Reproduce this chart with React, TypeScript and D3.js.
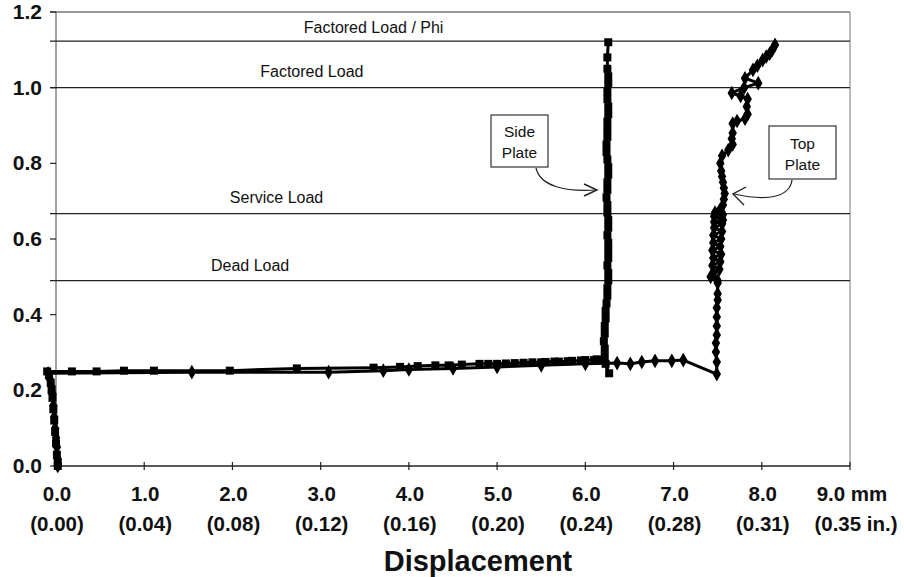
import React from "react";
import * as d3 from "d3";

// ---- data (displacement in mm, load ratio) ----
const xTicksMm = ["0.0", "1.0", "2.0", "3.0", "4.0", "5.0", "6.0", "7.0", "8.0", "9.0 mm"];
const xTicksIn = ["(0.00)", "(0.04)", "(0.08)", "(0.12)", "(0.16)", "(0.20)", "(0.24)", "(0.28)", "(0.31)", "(0.35 in.)"];
const yTicks = [0, 0.2, 0.4, 0.6, 0.8, 1.0, 1.2];

const refNames = ["Factored Load / Phi", "Factored Load", "Service Load", "Dead Load"];
const refValues = [1.123, 1.0, 0.667, 0.49];

// Side Plate (squares)
const sideX = [
  0.02, 0.02, 0.01, 0.0, -0.01, -0.02, -0.03, -0.04, -0.05, -0.06, -0.08, -0.1,
  0.18, 0.46, 0.77, 1.11, 1.97, 2.73, 3.6, 3.9, 4.1, 4.3, 4.45, 4.6, 4.8, 4.9, 5.0, 5.1, 5.2, 5.3, 5.4, 5.5, 5.55, 5.65, 5.7, 5.8, 5.85, 5.95, 6.0, 6.1, 6.13, 6.2,
  6.27, 6.23, 6.22, 6.22, 6.21, 6.22, 6.22, 6.23, 6.23, 6.24, 6.25, 6.25, 6.26, 6.26, 6.25, 6.26, 6.26, 6.26, 6.25,
  6.26, 6.26, 6.25, 6.25, 6.24, 6.25, 6.25, 6.26, 6.26, 6.25, 6.24, 6.24, 6.25, 6.25, 6.25, 6.26, 6.26, 6.25, 6.25,
  6.26, 6.26, 6.25, 6.25, 6.26,
];
const sideY = [
  0.0, 0.01, 0.03, 0.06, 0.09, 0.12, 0.15, 0.18, 0.2, 0.22, 0.24, 0.25,
  0.25, 0.25, 0.252, 0.252, 0.252, 0.258, 0.26, 0.262, 0.264, 0.266, 0.266, 0.268, 0.27, 0.27, 0.27, 0.271, 0.272, 0.273, 0.274, 0.274, 0.275, 0.276, 0.276, 0.277, 0.278, 0.279, 0.28, 0.28, 0.282, 0.28,
  0.245, 0.27, 0.29, 0.31, 0.33, 0.35, 0.37, 0.39, 0.41, 0.43, 0.45, 0.47, 0.49, 0.51, 0.53, 0.55, 0.57, 0.59, 0.61,
  0.63, 0.65, 0.67, 0.69, 0.71, 0.73, 0.75, 0.77, 0.79, 0.81, 0.83, 0.85, 0.87, 0.89, 0.91, 0.93, 0.95, 0.97, 0.99,
  1.01, 1.03, 1.05, 1.08, 1.12,
];

// Top Plate (diamonds)
const topX = [
  0.02, 0.015, 0.01, 0.0, -0.01, -0.02, -0.03, -0.04, -0.05, -0.07, -0.09,
  1.54, 3.09, 3.71, 4.0, 4.5, 5.0, 5.5, 6.0, 6.36, 6.51, 6.64, 6.79, 6.98, 7.11,
  7.49, 7.49, 7.48, 7.48, 7.49, 7.49, 7.49, 7.49, 7.5, 7.5, 7.5,
  7.42, 7.5, 7.45, 7.52, 7.44, 7.53, 7.45, 7.54, 7.44, 7.53, 7.45, 7.54, 7.45, 7.55, 7.46, 7.55, 7.46, 7.56, 7.46, 7.56, 7.47, 7.52,
  7.56, 7.57, 7.58, 7.57, 7.56, 7.55, 7.54, 7.53, 7.55, 7.62, 7.67, 7.66, 7.67, 7.67, 7.72, 7.81, 7.84, 7.83, 7.84, 7.76, 7.66, 7.8, 7.96, 7.81,
  7.9, 7.95, 8.01, 8.05, 8.09, 8.12, 8.15,
];
const topY = [
  0.0, 0.02, 0.05, 0.075, 0.1, 0.13, 0.16, 0.19, 0.21, 0.23, 0.245,
  0.248, 0.248, 0.252, 0.255, 0.258, 0.262, 0.266, 0.27, 0.272, 0.27, 0.275, 0.278, 0.278, 0.28,
  0.243, 0.275, 0.301, 0.325, 0.346, 0.37, 0.394, 0.418, 0.439, 0.455, 0.484,
  0.5, 0.49, 0.51, 0.52, 0.53, 0.54, 0.55, 0.56, 0.57, 0.58, 0.59, 0.6, 0.61, 0.62, 0.63, 0.64, 0.645, 0.65, 0.66, 0.665, 0.67, 0.675,
  0.69, 0.705, 0.72, 0.735, 0.75, 0.765, 0.78, 0.8, 0.82, 0.835, 0.85, 0.865, 0.88, 0.905, 0.912, 0.918, 0.93, 0.95, 0.97, 0.978, 0.986, 1.0, 1.012, 1.025,
  1.047, 1.058, 1.073, 1.082, 1.09, 1.1, 1.113,
];

const W = 904;
const H = 577;

export default function App() {
  const x = d3.scaleLinear().domain([0, 9]).range([56, 850]);
  const y = d3.scaleLinear().domain([0, 1.2]).range([466, 12]);

  const sidePts = sideX.map((v, i) => [v, sideY[i]] as [number, number]);
  const topPts = topX.map((v, i) => [v, topY[i]] as [number, number]);
  const line = d3
    .line<[number, number]>()
    .x((d) => x(d[0]))
    .y((d) => y(d[1]));
  const diamond = d3.symbol().type(d3.symbolDiamond).size(62)()!;
  const square = d3.symbol().type(d3.symbolSquare).size(64)()!;

  const font = "'Liberation Sans', Arial, sans-serif";
  const labelOffsets = [-8, -11, -11, -10];
  const labelXs = [3.6, 2.9, 2.5, 2.2];

  return (
    <svg
      width={W}
      height={H}
      style={{ position: "absolute", left: 0, top: 0, background: "#fff" }}
      fontFamily={font}
    >
      {/* plot frame */}
      <line x1={x(0)} x2={x(0)} y1={y(1.2)} y2={y(0)} stroke="#444" strokeWidth={1} />
      <line x1={x(9)} x2={x(9)} y1={y(1.2)} y2={y(0)} stroke="#777" strokeWidth={1} />
      <line x1={x(0) - 6} x2={x(9)} y1={y(1.2)} y2={y(1.2)} stroke="#333" strokeWidth={1.2} />
      <line x1={x(0)} x2={x(9)} y1={y(0)} y2={y(0)} stroke="#222" strokeWidth={1.5} />

      {/* y ticks */}
      {yTicks.map((t) => (
        <g key={t}>
          <line x1={x(0) - 6} x2={x(0)} y1={y(t)} y2={y(t)} stroke="#222" strokeWidth={1.2} />
          <text x={42} y={y(t) + 7} textAnchor="end" fontSize={21} fontWeight="bold" fill="#111">
            {t.toFixed(1)}
          </text>
        </g>
      ))}

      {/* x ticks */}
      {xTicksMm.map((lab, i) => (
        <g key={lab}>
          {i > 0 && <line x1={x(i)} x2={x(i)} y1={y(0) - 4} y2={y(0) + 4} stroke="#222" strokeWidth={1.2} />}
          <text x={x(i) + (i === 9 ? 2 : 1)} y={501} textAnchor="middle" fontSize={20.5} fontWeight="bold" fill="#111">
            {lab}
          </text>
          <text x={x(i) + (i === 9 ? 6 : 1)} y={531} textAnchor="middle" fontSize={20.5} fontWeight="bold" fill="#111">
            {xTicksIn[i]}
          </text>
        </g>
      ))}
      <text x={478} y={571} textAnchor="middle" fontSize={29} fontWeight="bold" fill="#111">
        Displacement
      </text>

      {/* reference lines */}
      {refValues.map((v, i) => (
        <g key={refNames[i]}>
          <line x1={x(0) - 6} x2={x(9)} y1={y(v)} y2={y(v)} stroke="#222" strokeWidth={1.3} />
          <text x={x(labelXs[i])} y={y(v) + labelOffsets[i]} textAnchor="middle" fontSize={16} fill="#111">
            {refNames[i]}
          </text>
        </g>
      ))}

      {/* series */}
      <path d={line(topPts)!} fill="none" stroke="#000" strokeWidth={3} strokeLinejoin="round" />
      <path d={line(sidePts)!} fill="none" stroke="#000" strokeWidth={3} strokeLinejoin="round" />
      {topPts.map((p, i) => (
        <path key={"t" + i} d={diamond} transform={`translate(${x(p[0])},${y(p[1])})`} fill="#000" />
      ))}
      {sidePts.map((p, i) => (
        <path key={"s" + i} d={square} transform={`translate(${x(p[0])},${y(p[1])})`} fill="#000" />
      ))}

      {/* callouts */}
      <rect x={491} y={115} width={57} height={52} fill="#fff" stroke="#333" strokeWidth={1.2} />
      <text x={519.5} y={137} textAnchor="middle" fontSize={15.5} fill="#111">Side</text>
      <text x={519.5} y={158} textAnchor="middle" fontSize={15.5} fill="#111">Plate</text>
      <path d="M536,168 C540,186 565,192 596,190" fill="none" stroke="#222" strokeWidth={1.2} />
      <path d="M584,184 L597,190 L584,196" fill="none" stroke="#222" strokeWidth={1.4} />

      <rect x={769} y={126} width={67} height={53} fill="#fff" stroke="#333" strokeWidth={1.2} />
      <text x={802.5} y={149} textAnchor="middle" fontSize={15.5} fill="#111">Top</text>
      <text x={802.5} y={170} textAnchor="middle" fontSize={15.5} fill="#111">Plate</text>
      <path d="M792,180 C790,196 770,202 734,194" fill="none" stroke="#222" strokeWidth={1.2} />
      <path d="M746,187 L733,194 L744,205" fill="none" stroke="#222" strokeWidth={1.4} />
    </svg>
  );
}
